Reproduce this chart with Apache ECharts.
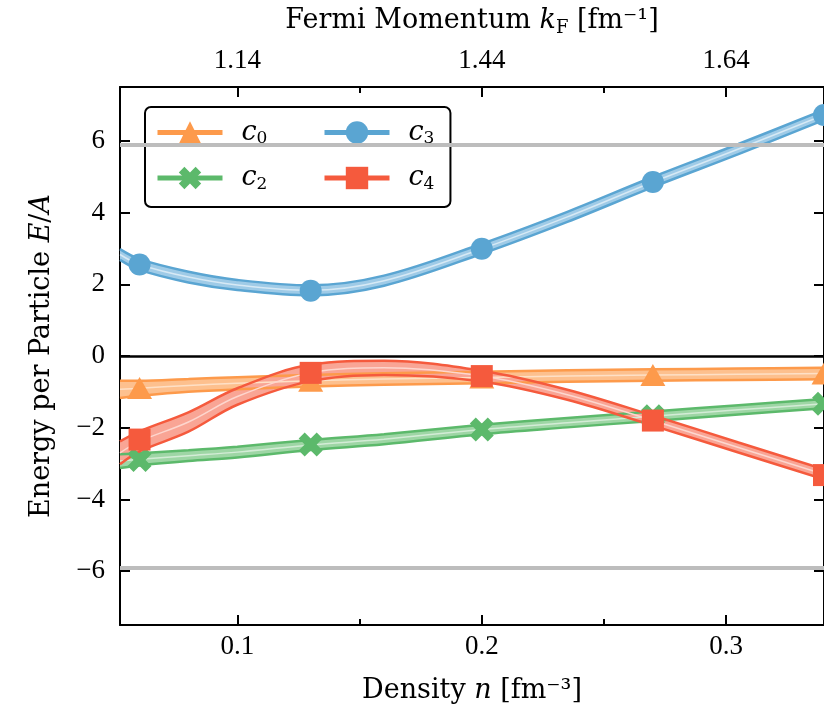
<!DOCTYPE html>
<html>
<head>
<meta charset="utf-8">
<script src="https://cdn.jsdelivr.net/npm/echarts@6/dist/echarts.min.js"></script>
<style>
html, body { margin: 0; padding: 0; background: #fff; }
#chart { width: 824px; height: 712px; }
</style>
</head>
<body>
<div id="chart"></div>
<script>
// density grid the curves were read on, and the marker densities
var nGrid = [0.052, 0.06, 0.08, 0.10, 0.13, 0.16, 0.20, 0.235, 0.27, 0.305, 0.34];
var nMarks = [0.06, 0.13, 0.20, 0.27, 0.34];

// c0
var c0Mid  = [-0.93, -0.90, -0.82, -0.76, -0.69, -0.64, -0.60, -0.56, -0.53, -0.51, -0.49];
var c0Half = [0.24, 0.21, 0.18, 0.17, 0.16, 0.16, 0.16, 0.16, 0.16, 0.16, 0.16];
var c0Marks = [-0.89, -0.69, -0.60, -0.53, -0.49];
// c2
var c2Mid  = [-2.93, -2.88, -2.78, -2.68, -2.48, -2.32, -2.05, -1.86, -1.68, -1.50, -1.33];
var c2Half = [0.19, 0.17, 0.15, 0.15, 0.14, 0.14, 0.13, 0.13, 0.13, 0.13, 0.13];
var c2Marks = [-2.90, -2.47, -2.05, -1.68, -1.33];
// c3
var c3Mid  = [2.83, 2.55, 2.20, 1.98, 1.83, 2.10, 2.99, 3.88, 4.85, 5.77, 6.72];
var c3Half = [0.15, 0.15, 0.15, 0.14, 0.14, 0.14, 0.14, 0.14, 0.14, 0.14, 0.14];
var c3Marks = [2.55, 1.82, 2.99, 4.85, 6.72];
// c4
var c4Mid  = [-2.70, -2.38, -1.84, -1.13, -0.47, -0.33, -0.56, -1.08, -1.80, -2.55, -3.30];
var c4Half = [0.32, 0.28, 0.27, 0.23, 0.23, 0.20, 0.15, 0.14, 0.14, 0.14, 0.14];
var c4Marks = [-2.33, -0.47, -0.56, -1.80, -3.32];

var refLevels = [5.9, -5.9];

var xTicks = [0.1, 0.2, 0.3];
var xLabels = ['0.1', '0.2', '0.3'];
var xMinorTicks = [0.15, 0.25];
var kfLabels = ['1.14', '1.44', '1.64'];
var yTicks = [-6, -4, -2, 0, 2, 4, 6];
var yLabels = ['\u22126', '\u22124', '\u22122', '0', '2', '4', '6'];

var SERIF = "'DejaVu Serif', 'Liberation Serif', serif";
var TICKFONT = "'Liberation Serif', 'DejaVu Serif', serif";

var colors = {
    c0: ['#fd9a4b', '#fdc08e', '#fee0c6'],
    c2: ['#5cb96b', '#9ed6a5', '#d3ecd6'],
    c3: ['#5aa5d2', '#9fcbe7', '#d6e9f5'],
    c4: ['#f55a3d', '#f9a595', '#fdd6ce']
};

function pairs(xs, ys) {
    return xs.map(function (x, i) { return [x, ys[i]]; });
}

function pick(v, ticks, labels) {
    for (var i = 0; i < ticks.length; i++) {
        if (Math.abs(v - ticks[i]) < 1e-6) return labels[i];
    }
    return '';
}

// band = lower edge + stacked width; value put first so the stack runs on y
function band(key, mid, half) {
    var col = colors[key];
    var lower = nGrid.map(function (n, i) { return [mid[i] - half[i], n]; });
    var width = nGrid.map(function (n, i) { return [2 * half[i], n]; });
    var enc = { x: 1, y: 0 };
    return [{
        type: 'line', stack: key, stackStrategy: 'all', data: lower, encode: enc, smooth: 0.35,
        symbol: 'none', silent: true, lineStyle: { color: col[0], width: 2.5 }
    }, {
        type: 'line', stack: key, stackStrategy: 'all', data: width, encode: enc, smooth: 0.35,
        symbol: 'none', silent: true, lineStyle: { color: col[0], width: 2.5 },
        areaStyle: { color: col[1], opacity: 1 }
    }, {
        type: 'line', data: pairs(nGrid, mid), smooth: 0.35,
        symbol: 'none', silent: true, lineStyle: { color: col[2], width: 1.5 }
    }];
}

function marks(key, vals, symbol, size) {
    return {
        name: key, type: 'line', data: pairs(nMarks, vals),
        symbol: symbol, symbolSize: size, showAllSymbol: true,
        lineStyle: { color: colors[key][0], opacity: 0 },
        itemStyle: { color: colors[key][0] }
    };
}

var xShape = 'path://M0,2.5L2.5,0L5,2.5L7.5,0L10,2.5L7.5,5L10,7.5L7.5,10L5,7.5L2.5,10L0,7.5L2.5,5Z';

var legendRich = {
    i: { fontFamily: SERIF, fontStyle: 'italic', fontSize: 27, lineHeight: 30 },
    s: { fontFamily: SERIF, fontSize: 17, lineHeight: 14, verticalAlign: 'bottom' }
};
function legendName(name) {
    return '{i|c}{s|' + name.slice(1) + '}';
}

var nameRich = {
    i: { fontFamily: SERIF, fontStyle: 'italic', fontSize: 27, lineHeight: 32 },
    s: { fontFamily: SERIF, fontSize: 18, lineHeight: 15, verticalAlign: 'bottom' }
};
var nameStyle = { color: '#000', fontFamily: SERIF, fontSize: 27, lineHeight: 32, rich: nameRich };

function xAxisDef(pos, withLabels, ticks, len) {
    return {
        type: 'value', position: pos, min: 0.052, max: 0.34,
        splitLine: { show: false },
        axisLine: { show: withLabels, onZero: false, lineStyle: { color: '#000', width: 2 } },
        axisTick: { inside: true, length: len, customValues: ticks, lineStyle: { color: '#000', width: 2 } },
        axisLabel: { show: false }
    };
}

var xBottom = xAxisDef('bottom', true, xTicks, 10);
xBottom.axisLabel = {
    show: true, customValues: xTicks, margin: 8, color: '#000',
    fontFamily: TICKFONT, fontSize: 27,
    formatter: function (v) { return pick(v, xTicks, xLabels); }
};
xBottom.name = 'Density {i|n} [fm\u207B\u00B3]';
xBottom.nameLocation = 'middle';
xBottom.nameGap = 50;
xBottom.nameTextStyle = nameStyle;

var xTop = xAxisDef('top', true, xTicks, 10);
xTop.axisLabel = {
    show: true, customValues: xTicks, margin: 13, color: '#000',
    fontFamily: TICKFONT, fontSize: 27,
    formatter: function (v) { return pick(v, xTicks, kfLabels); }
};
xTop.name = 'Fermi Momentum {i|k}{s|F} [fm\u207B\u00B9]';
xTop.nameLocation = 'middle';
xTop.nameGap = 50;
xTop.nameTextStyle = nameStyle;

function yAxisDef(pos, withLabels) {
    return {
        type: 'value', position: pos, min: -7.5, max: 7.5,
        splitLine: { show: false },
        axisLine: { show: true, onZero: false, lineStyle: { color: '#000', width: 2 } },
        axisTick: { inside: true, length: 10, customValues: yTicks, lineStyle: { color: '#000', width: 2 } },
        axisLabel: withLabels ? {
            customValues: yTicks, margin: 15, color: '#000', fontFamily: TICKFONT, fontSize: 27,
            formatter: function (v) { return pick(v, yTicks, yLabels); }
        } : { show: false }
    };
}

var yLeft = yAxisDef('left', true);
yLeft.name = 'Energy per Particle {i|E}/{i|A}';
yLeft.nameLocation = 'middle';
yLeft.nameGap = 62;
yLeft.nameTextStyle = nameStyle;

var series = [{
    type: 'line', data: [], silent: true,
    markLine: {
        silent: true, symbol: 'none', label: { show: false },
        lineStyle: { color: '#bdbdbd', width: 4, type: 'solid' },
        data: refLevels.map(function (v) { return { yAxis: v }; })
    }
}, {
    type: 'line', data: [], silent: true,
    markLine: {
        silent: true, symbol: 'none', label: { show: false },
        lineStyle: { color: '#000', width: 2.5, type: 'solid' },
        data: [{ yAxis: 0 }]
    }
}];
series = series
    .concat(band('c0', c0Mid, c0Half)).concat([marks('c0', c0Marks, 'triangle', [25, 22])])
    .concat(band('c2', c2Mid, c2Half)).concat([marks('c2', c2Marks, xShape, 24)])
    .concat(band('c3', c3Mid, c3Half)).concat([marks('c3', c3Marks, 'circle', 22)])
    .concat(band('c4', c4Mid, c4Half)).concat([marks('c4', c4Marks, 'rect', 22)]);

var legendBase = {
    orient: 'vertical', top: 107, itemWidth: 65, itemHeight: 28, itemGap: 17,
    selectedMode: false,
    lineStyle: { width: 5, opacity: 1 },
    formatter: legendName
};

var option = {
    animation: false,
    backgroundColor: '#fff',
    grid: { left: 120, right: -4.5, top: 82, bottom: 87, containLabel: false },
    xAxis: [xBottom, xTop, xAxisDef('bottom', false, xMinorTicks, 6), xAxisDef('top', false, xMinorTicks, 6)],
    yAxis: [yLeft, yAxisDef('right', false)],
    legend: [
        Object.assign({}, legendBase, {
            left: 145, data: ['c0', 'c2'],
            padding: [12, 183, 14, 10],
            backgroundColor: 'rgba(255,255,255,0.8)',
            borderColor: '#000', borderWidth: 2, borderRadius: 6,
            textStyle: { color: '#000', padding: [0, 0, 0, 14], rich: legendRich }
        }),
        Object.assign({}, legendBase, {
            left: 312, data: ['c3', 'c4'], z: 5,
            padding: [12, 10, 14, 10],
            textStyle: { color: '#000', padding: [0, 0, 0, 14], rich: legendRich }
        })
    ],
    series: series
};

echarts.init(document.getElementById('chart')).setOption(option);
</script>
</body>
</html>
